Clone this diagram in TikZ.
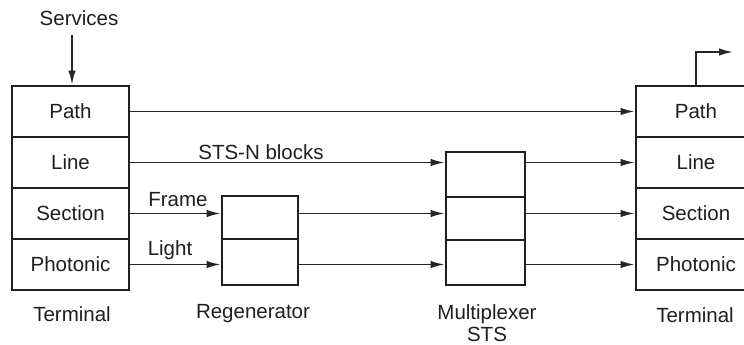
\documentclass[tikz,border=0pt]{standalone}
\usepackage{fontspec}
\setmainfont{Liberation Sans}
\usetikzlibrary{arrows.meta}
\begin{document}
\begin{tikzpicture}[x=1pt,y=-1pt,
  every node/.style={font=\fontsize{20.5}{22}\selectfont, text=black!88},
  layer/.style={draw=black!88, line width=2.8pt, minimum width=117pt, minimum height=51pt, inner sep=0pt},
  regcell/.style={draw=black!88, line width=2.8pt, minimum width=76pt, inner sep=0pt},
  muxcell/.style={draw=black!88, line width=2.8pt, minimum width=79pt, inner sep=0pt},
  lbl/.style={inner sep=0pt},
  conn/.style={draw=black!85, line width=1.7pt, -{Latex[length=14pt,width=7.5pt]}}
]
\useasboundingbox (0,0) rectangle (744,345);
\clip (0,0) rectangle (744,345);
\fill[white] (0,0) rectangle (744,345);

% left terminal
\node[layer] (lpath) at (70.5,111.5) {Path};
\node[layer] (lline) at (70.5,162.5) {Line};
\node[layer] (lsec)  at (70.5,213.5) {Section};
\node[layer] (lpho)  at (70.5,264.5) {Photonic};

% right terminal
\node[layer, minimum width=120pt] (rpath) at (696,111.5) {Path};
\node[layer, minimum width=120pt] (rline) at (696,162.5) {Line};
\node[layer, minimum width=120pt] (rsec)  at (696,213.5) {Section};
\node[layer, minimum width=120pt] (rpho)  at (696,264.5) {Photonic};

% regenerator
\node[regcell, minimum height=43pt] (reg1) at (260,217.5) {};
\node[regcell, minimum height=46pt] (reg2) at (260,262) {};

% multiplexer
\node[muxcell, minimum height=45pt] (mux1) at (485.5,174.5) {};
\node[muxcell, minimum height=43pt] (mux2) at (485.5,218.5) {};
\node[muxcell, minimum height=45pt] (mux3) at (485.5,262.5) {};

% labels
\node[lbl] (serv) at (79,18) {Services};
\coordinate (servtip) at (72,35);
\node[lbl] (stsn) at (261,152) {STS-N blocks};
\node[lbl] (frame) at (178,200) {Frame};
\node[lbl] (light) at (170,250) {Light};
\node[lbl] (tl) at (72,314) {Terminal};
\node[lbl] (tr) at (695,315) {Terminal};
\node[lbl] (regl) at (253,314) {Regenerator};
\node[lbl] (muxl) at (487,314) {Multiplexer};
\node[lbl] (stsl) at (487,334) {STS};

% services arrow
\draw[conn] (servtip) -- (servtip |- lpath.north);

% path
\draw[conn] (lpath.east) -- (rpath.west);
% line
\draw[conn] (lline.east) -- (lline.east -| mux1.west);
\draw[conn] (lline.east -| mux1.east) -- (rline.west);
% section
\draw[conn] (lsec.east) -- (lsec.east -| reg1.west);
\draw[conn] (lsec.east -| reg1.east) -- (lsec.east -| mux2.west);
\draw[conn] (lsec.east -| mux2.east) -- (rsec.west);
% photonic
\draw[conn] (lpho.east) -- (lpho.east -| reg2.west);
\draw[conn] (lpho.east -| reg2.east) -- (lpho.east -| mux3.west);
\draw[conn] (lpho.east -| mux3.east) -- (rpho.west);

% output from right terminal
\coordinate (outtip) at (733,52);
\draw[conn] (rpath.north -| 696,0) -- (696,52) -- (outtip);
\end{tikzpicture}
\end{document}
